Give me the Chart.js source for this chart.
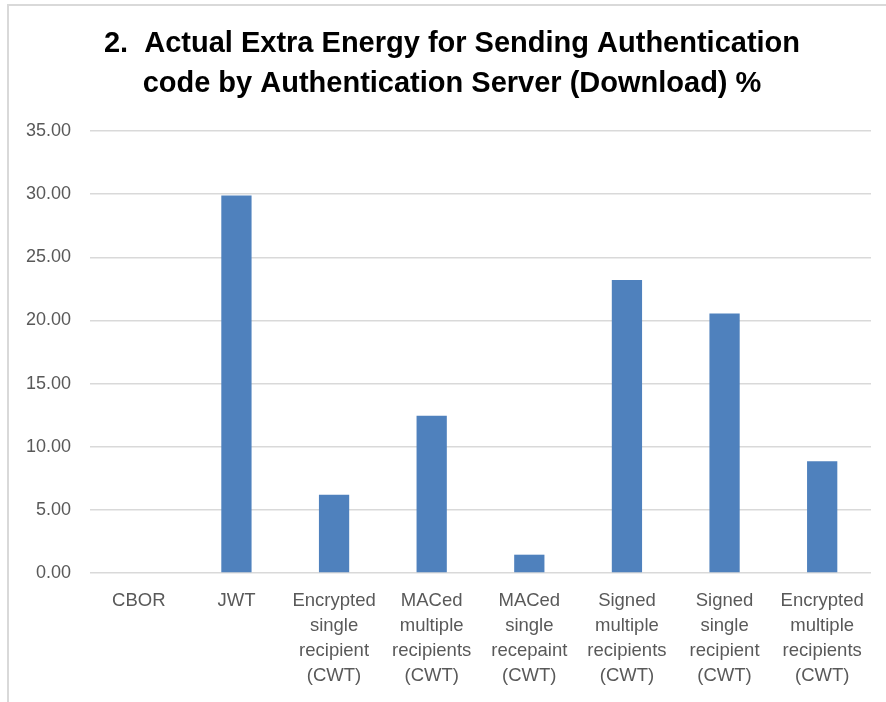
<!DOCTYPE html>
<html>
<head>
<meta charset="utf-8">
<script src="https://cdn.jsdelivr.net/npm/chart.js@4/dist/chart.umd.min.js"></script>
<style>
  html, body { margin: 0; padding: 0; background: #ffffff; }
  #wrap { position: relative; width: 886px; height: 702px; overflow: hidden; }
  #frame { position: absolute; left: 7px; top: 4px; right: -4px; bottom: -4px;
           border-left: 2px solid #d9d9d9; border-top: 2px solid #d9d9d9; pointer-events: none; }
  canvas { position: absolute; left: 0; top: 0; }
</style>
</head>
<body>
<div id="wrap">
  <canvas id="chart" width="886" height="702"></canvas>
  <div id="frame"></div>
</div>
<script>
// Token formats compared
const categories = [
  ["CBOR"],
  ["JWT"],
  ["Encrypted", "single", "recipient", "(CWT)"],
  ["MACed", "multiple", "recipients", "(CWT)"],
  ["MACed", "single", "recepaint", "(CWT)"],
  ["Signed", "multiple", "recipients", "(CWT)"],
  ["Signed", "single", "recipient", "(CWT)"],
  ["Encrypted", "multiple", "recipients", "(CWT)"]
];

// Extra energy (%) for sending the authentication code
const extraEnergy = [0, 29.9, 6.2, 12.45, 1.45, 23.2, 20.55, 8.85];

const titleLines = [
  "2.  Actual Extra Energy for Sending Authentication",
  "code by Authentication Server (Download) %"
];

const yMin = 0, yMax = 35, yStep = 5;

const fontFamily = "'Liberation Sans', Arial, sans-serif";

// Two-line heading, centred over the framed chart panel
const headingPlugin = {
  id: "heading",
  afterDraw(chart) {
    const ctx = chart.ctx;
    ctx.save();
    ctx.font = "bold 29px " + fontFamily;
    ctx.fillStyle = "#000000";
    ctx.textAlign = "center";
    ctx.textBaseline = "middle";
    const cx = 452, firstY = 44, step = 40;
    titleLines.forEach((line, i) => ctx.fillText(line, cx, firstY + i * step));
    ctx.restore();
  }
};

new Chart(document.getElementById("chart"), {
  type: "bar",
  data: {
    labels: categories,
    datasets: [{
      data: extraEnergy,
      backgroundColor: "#4f81bd",
      borderWidth: 0,
      barPercentage: 0.31,
      categoryPercentage: 1.0
    }]
  },
  plugins: [headingPlugin],
  options: {
    responsive: false,
    animation: false,
    layout: { padding: { left: 0, right: 15, top: 131, bottom: 0 } },
    plugins: {
      legend: { display: false },
      tooltip: { enabled: false },
      title: { display: false }
    },
    scales: {
      x: {
        afterFit: (scale) => { scale.height = 129; },
        grid: { display: false, drawTicks: false },
        border: { display: false },
        ticks: {
          color: "#595959",
          font: { family: fontFamily, size: 18.5, lineHeight: 1.36 },
          maxRotation: 0,
          minRotation: 0,
          autoSkip: false,
          padding: 15
        }
      },
      y: {
        min: yMin,
        max: yMax,
        afterFit: (scale) => { scale.width = 90; },
        border: { display: false },
        grid: { color: "#d9d9d9", lineWidth: 1.5, drawTicks: false },
        ticks: {
          stepSize: yStep,
          color: "#595959",
          font: { family: fontFamily, size: 18 },
          padding: 19,
          callback: (v) => Number(v).toFixed(2)
        }
      }
    }
  }
});
</script>
</body>
</html>
